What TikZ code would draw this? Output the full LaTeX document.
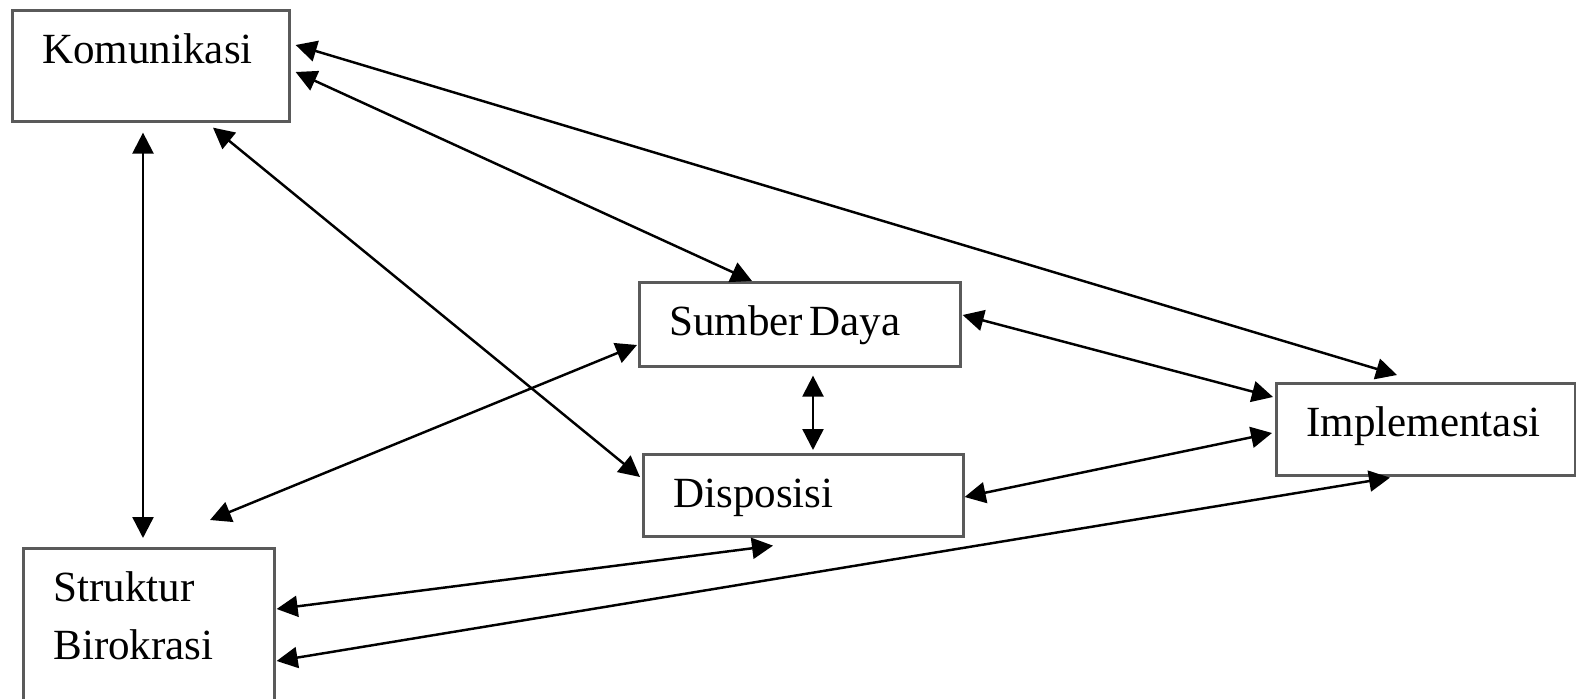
\documentclass[tikz,border=0pt]{standalone}
\usepackage{fontspec}
\setmainfont{Liberation Serif}
\usetikzlibrary{arrows.meta, positioning}
\definecolor{boxgray}{RGB}{90,90,90}
\tikzstyle{block} = [rectangle, anchor=north west, draw=boxgray, line width=1.5pt, fill=white, inner xsep=0.6cm, inner ysep=0pt, align=left, text height=1.06cm, font=\fontsize{24.5}{33}\selectfont]
\tikzstyle{arrow} = [<->, >={Triangle[length=0.42cm, width=0.42cm]}, line width=1.4pt]

\begin{document}
\begin{tikzpicture}

    \path[use as bounding box, fill=white] (0, 0) rectangle (31.52, -13.98);
    \clip (0, 0) rectangle (31.52, -13.98);

    \node (kom) [block, text width=4.34cm, text depth=1.16cm] at (0.22, -0.18) {Komunikasi};
    \node (sd) [block, text width=5.22cm, text depth=0.62cm] at (12.76, -5.62) {Sumber\hspace{0.15em}Daya};
    \node (dis) [block, text width=5.20cm, text depth=0.58cm] at (12.84, -9.06) {Disposisi};
    \node (imp) [block, text width=4.78cm, text depth=0.78cm] at (25.50, -7.64) {Implementasi};
    \node (sb) [block, text width=3.82cm, text depth=2.30cm] at (0.44, -10.94) {Struktur\\Birokrasi};

    \coordinate (sbfree) at ([xshift=3.76cm, yshift=0.54cm]sb.north west);

    % lines from Komunikasi
    \draw [arrow] ([xshift=0.1cm, yshift=-0.72cm]kom.north east) -- ([xshift=2.44cm, yshift=0.14cm]imp.north west);
    \draw [arrow] ([xshift=0.1cm, yshift=-1.26cm]kom.north east) -- ([xshift=2.28cm]sd.north west);
    \draw [arrow] ([xshift=4.04cm, yshift=-0.1cm]kom.south west) -- ([xshift=-0.04cm, yshift=-0.48cm]dis.north west);
    \draw [arrow] ([xshift=2.64cm, yshift=-0.2cm]kom.south west) -- ([xshift=2.42cm, yshift=0.18cm]sb.north west);

    % lines from Sumber Daya
    \draw [arrow] ([xshift=-0.02cm, yshift=-1.28cm]sd.north west) -- (sbfree);
    \draw [arrow] ([xshift=0.02cm, yshift=-0.68cm]sd.north east) -- ([xshift=-0.04cm, yshift=-0.3cm]imp.north west);
    \draw [arrow] ([xshift=3.5cm, yshift=-0.16cm]sd.south west) -- ([xshift=3.42cm, yshift=0.06cm]dis.north west);

    % lines from Disposisi and Implementasi
    \draw [arrow] ([yshift=-0.88cm]dis.north east) -- ([xshift=-0.06cm, yshift=-1.02cm]imp.north west);
    \draw [arrow] ([xshift=2.62cm, yshift=-0.16cm]dis.south west) -- ([xshift=0.02cm, yshift=-1.24cm]sb.north east);
    \draw [arrow] ([xshift=2.3cm, yshift=-0.02cm]imp.south west) -- ([xshift=0.02cm, yshift=-2.28cm]sb.north east);

\end{tikzpicture}
\end{document}
